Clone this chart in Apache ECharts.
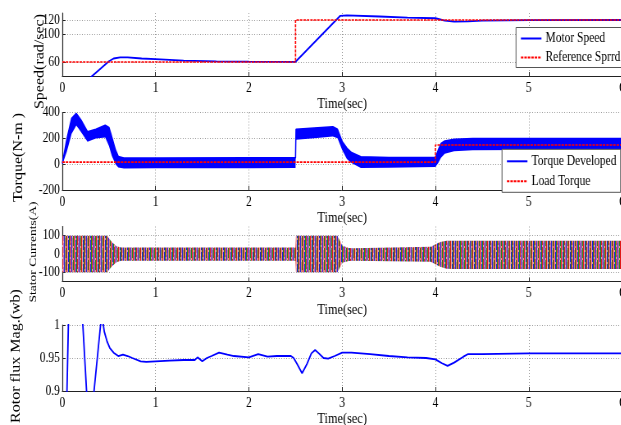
<!DOCTYPE html>
<html>
<head>
<meta charset="utf-8">
<script src="https://cdn.jsdelivr.net/npm/echarts@6/dist/echarts.min.js"></script>
<style>
html,body{margin:0;padding:0;background:#fff;overflow:hidden}
#wrap{width:621px;height:425px;overflow:hidden;position:relative;background:#fff}
#chart{height:425px;transform-origin:0 0}
</style>
</head>
<body>
<div id="wrap"><div id="chart"></div></div>
<script>
// ---------- data ----------
const timeTicks = [0, 1, 2, 3, 4, 5, 6];
const speedTicks = [60, 100, 120];
const torqueTicks = [-200, 0, 200, 400];
const currentTicks = [-100, 0, 100];
const fluxTicks = [0.9, 0.95, 1];

const speedTime  = [0, 0.32, 0.50, 0.55, 0.62, 0.70, 0.85, 1.0, 1.3, 1.65, 2.0, 2.5, 2.98, 3.05, 3.4, 3.7, 4.0, 4.1, 4.2, 4.35, 4.5, 5.0, 6.0];
const speedValue = [0, 40, 61, 65, 66.5, 66.5, 65, 64, 62, 61, 60.5, 60.3, 126, 126.5, 125, 123.5, 122.5, 119, 117.8, 118, 119, 119.8, 120];
const refSpeedTime  = [0, 2.5, 2.5, 6];
const refSpeedValue = [60, 60, 120, 120];

const torqueTime  = [0, 0.05, 0.10, 0.15, 0.20, 0.27, 0.36, 0.46, 0.50, 0.53, 0.57, 0.60, 0.66, 1.0, 2.0, 2.5, 2.505, 2.7, 2.9, 2.95, 3.0, 3.05, 3.1, 3.2, 3.5, 4.0, 4.03, 4.06, 4.1, 4.2, 4.4, 5.0, 6.0];
const torqueUpper = [5, 200, 355, 393, 342, 251, 270, 302, 285, 212, 110, 60, 48, 48, 50, 50, 270, 280, 290, 270, 175, 125, 90, 58, 52, 52, 110, 160, 180, 192, 198, 198, 198];
const torqueLower = [-5, 100, 235, 300, 250, 173, 198, 207, 140, 65, 0, -26, -34, -32, -32, -30, 190, 200, 215, 200, 110, 40, 10, -30, -28, -22, 10, 50, 80, 100, 108, 110, 110];
const loadTime  = [0, 4, 4, 6];
const loadValue = [16, 16, 148, 148];

const currentTime  = [0, 0.48, 0.53, 0.58, 0.63, 2.5, 2.505, 2.95, 3.0, 3.07, 3.12, 3.95, 4.05, 4.12, 4.2, 6.0];
const currentUpper = [100, 100, 65, 42, 35, 35, 100, 100, 46, 33, 32, 40, 65, 72, 72, 72];
const currentLower = [-100, -100, -68, -45, -37, -37, -100, -100, -48, -38, -37, -42, -70, -80, -82, -82];

const fluxTime  = [0, 0.05, 0.065, 0.14, 0.22, 0.26, 0.30, 0.34, 0.41, 0.43, 0.45, 0.48, 0.51, 0.55, 0.60, 0.65, 0.70, 0.75, 0.84, 0.9, 1.0, 1.15, 1.3, 1.42, 1.45, 1.5, 1.55, 1.6, 1.68, 1.77, 1.84, 2.0, 2.1, 2.2, 2.3, 2.45, 2.48, 2.52, 2.57, 2.62, 2.67, 2.71, 2.75, 2.8, 2.85, 2.92, 3.0, 3.1, 3.3, 3.5, 3.7, 3.9, 4.0, 4.07, 4.13, 4.2, 4.3, 4.35, 4.5, 5.0, 5.5, 6.0];
const fluxValue = [0.6, 0.9, 1.0, 1.15, 1.0, 0.9, 0.85, 0.9, 1.0, 1.01, 0.99, 0.975, 0.965, 0.958, 0.953, 0.955, 0.953, 0.95, 0.945, 0.944, 0.945, 0.946, 0.947, 0.947, 0.951, 0.945, 0.95, 0.953, 0.958, 0.955, 0.953, 0.951, 0.956, 0.952, 0.953, 0.953, 0.95, 0.94, 0.927, 0.94, 0.957, 0.962, 0.957, 0.95, 0.949, 0.953, 0.958, 0.958, 0.956, 0.953, 0.951, 0.95, 0.948, 0.942, 0.938, 0.943, 0.952, 0.956, 0.956, 0.957, 0.957, 0.957];

// ---------- layout ----------
const S = 0.82;               // horizontal squeeze of the original figure
const W = 621 / S;
const chartEl = document.getElementById('chart');
chartEl.style.width = W + 'px';
chartEl.style.transform = 'scaleX(' + S + ')';

const FONT = "'Liberation Serif', 'Times New Roman', serif";
const pts = (xs, ys) => xs.map((x, i) => [x, ys[i]]);
const bandRows = (ts, lo, hi) => ts.map((t, i) => [t, lo[i], hi[i]]);

// striped fill imitating the dense three-phase current traces
const pc = document.createElement('canvas');
pc.width = 9; pc.height = 12;
const pctx = pc.getContext('2d');
const stripeCols = ['#e01818', '#f2a0a0', '#1a1ae0', '#1a901a', '#d42020', '#c070c0', '#2a2ad0', '#d88080', '#208a20'];
stripeCols.forEach((c, i) => { pctx.fillStyle = c; pctx.fillRect(i, 0, 1, 12); });
pctx.fillStyle = 'rgba(255,190,190,0.75)';
[[1, 2], [4, 5], [7, 8], [2, 10], [5, 1], [8, 6]].forEach(p => pctx.fillRect(p[0], p[1], 1, 2));

// polygon between a lower and an upper envelope, placed through the axes
function bandRenderer(fill) {
  return function (params, api) {
    if (params.dataIndexInside !== 0) return null;
    const n = params.dataInsideLength;
    const top = [], bottom = [];
    for (let j = 0; j < n; j++) {
      const t = api.value(0, j);
      top.push(api.coord([t, api.value(2, j)]));
      bottom.push(api.coord([t, api.value(1, j)]));
    }
    return {
      type: 'polygon',
      shape: { points: top.concat(bottom.reverse()) },
      style: { fill: fill, stroke: null },
      silent: true
    };
  };
}

const gridLeft = 62.3 / S, gridWidth = 559.7 / S;
const gridBase = { left: gridLeft, width: gridWidth, containLabel: false, outerBoundsMode: 'none' };
const grids = [
  Object.assign({}, gridBase, { top: 13, height: 63 }),
  Object.assign({}, gridBase, { top: 112.5, height: 77.5 }),
  Object.assign({}, gridBase, { top: 226.5, height: 55 }),
  Object.assign({}, gridBase, { top: 325, height: 66 })
];

const gridLine = { show: true, lineStyle: { color: '#9a9a9a', width: 1, type: [1, 2] } };

const xAxisOf = (i) => ({
  type: 'value', gridIndex: i, min: timeTicks[0], max: timeTicks[timeTicks.length - 1], interval: 1,
  name: 'Time(sec)', nameLocation: 'middle', nameGap: 21,
  nameTextStyle: { fontFamily: FONT, fontSize: 15, color: '#000' },
  axisLine: { onZero: false, lineStyle: { color: '#222', width: 1 } },
  axisTick: { inside: true, length: 4, lineStyle: { color: '#222' } },
  axisLabel: { fontFamily: FONT, fontSize: 14, color: '#000', margin: 5 },
  splitLine: gridLine
});

const yAxisOf = (i, min, max, ticks) => ({
  type: 'value', gridIndex: i, min: min, max: max,
  axisLabel: { customValues: ticks, fontFamily: FONT, fontSize: 14, color: '#000', margin: 3 },
  axisTick: { customValues: ticks, inside: true, length: 4, lineStyle: { color: '#222' } },
  axisLine: { show: true, lineStyle: { color: '#222', width: 1.2 } },
  splitLine: gridLine
});

const yName = (text, xRef, y, size) => ({
  type: 'text', x: xRef / S, y: y, rotation: Math.PI / 2,
  style: { text: text, font: size + 'px ' + FONT, fill: '#000',
           align: 'center', verticalAlign: 'middle', textAlign: 'center', textVerticalAlign: 'middle' }
});

const legendBase = {
  orient: 'vertical', itemWidth: 25, itemHeight: 14, selectedMode: false,
  backgroundColor: '#fff', borderColor: '#555', borderWidth: 1, borderRadius: 0,
  itemStyle: { opacity: 0 },
  textStyle: { fontFamily: FONT, fontSize: 14, color: '#000' }
};

const redDots = { color: '#ff0000', width: 1.6, type: [3, 1.2] };

const chart = echarts.init(chartEl, null, { renderer: 'canvas' });
chart.setOption({
  animation: false,
  backgroundColor: '#fff',
  grid: grids,
  xAxis: [0, 1, 2, 3].map(xAxisOf),
  yAxis: [
    yAxisOf(0, 40, 130, speedTicks),
    yAxisOf(1, -200, 400, torqueTicks),
    yAxisOf(2, -150, 150, currentTicks),
    yAxisOf(3, 0.9, 1.0, fluxTicks)
  ],
  legend: [
    Object.assign({}, legendBase, { data: ['Motor Speed', 'Reference Sprrd'], left: 516 / S, top: 27.5, padding: [4, 5, 3, 5], itemGap: 5, z: 20 }),
    Object.assign({}, legendBase, { data: ['Torque Developed', 'Load Torque'], left: 502 / S, top: 149.3, padding: [5, 5, 4, 5], itemGap: 6, z: 20 })
  ],
  graphic: [
    yName('Speed(rad/sec)', 40, 61.5, 16),
    yName('Torque(N-m )', 19, 157.5, 16),
    yName('Stator Currents(A)', 33, 252, 13.5),
    yName('Rotor flux Mag.(wb)', 16, 356, 16)
  ],
  series: [
    { name: 'Motor Speed', type: 'line', xAxisIndex: 0, yAxisIndex: 0, data: pts(speedTime, speedValue), z: 2,
      showSymbol: false, symbol: 'none', lineStyle: { color: '#0000ff', width: 1.8 }, itemStyle: { color: '#0000ff' } },
    { name: 'Reference Sprrd', type: 'line', xAxisIndex: 0, yAxisIndex: 0, data: pts(refSpeedTime, refSpeedValue), z: 6,
      showSymbol: false, symbol: 'none', lineStyle: redDots, itemStyle: { color: '#ff0000' } },

    { name: 'torque-band', type: 'custom', xAxisIndex: 1, yAxisIndex: 1, clip: true, z: 1,
      data: bandRows(torqueTime, torqueLower, torqueUpper), encode: { x: 0, y: [1, 2] },
      renderItem: bandRenderer('#0000ff') },
    { name: 'Torque Developed', type: 'line', xAxisIndex: 1, yAxisIndex: 1, data: pts(torqueTime, torqueUpper), z: 2,
      showSymbol: false, symbol: 'none', lineStyle: { color: '#0000ff', width: 1.5 }, itemStyle: { color: '#0000ff' } },
    { name: 'Load Torque', type: 'line', xAxisIndex: 1, yAxisIndex: 1, data: pts(loadTime, loadValue), z: 6,
      showSymbol: false, symbol: 'none', lineStyle: redDots, itemStyle: { color: '#ff0000' } },

    { name: 'Stator Currents', type: 'custom', xAxisIndex: 2, yAxisIndex: 2, clip: true, z: 1,
      data: bandRows(currentTime, currentLower, currentUpper), encode: { x: 0, y: [1, 2] },
      renderItem: bandRenderer({ image: pc, repeat: 'repeat' }) },

    { name: 'Rotor Flux', type: 'line', xAxisIndex: 3, yAxisIndex: 3, data: pts(fluxTime, fluxValue), z: 2,
      showSymbol: false, symbol: 'none', lineStyle: { color: '#0000ff', width: 1.8 } }
  ]
});
</script>
</body>
</html>
